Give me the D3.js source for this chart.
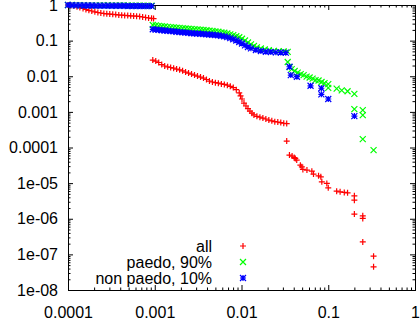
<!DOCTYPE html>
<html>
<head>
<meta charset="utf-8">
<script src="https://cdn.jsdelivr.net/npm/d3@7"></script>
<style>
  body { margin: 0; background: #fff; }
  svg { display: block; }
  text { font-family: "Liberation Sans", Arial, sans-serif; font-size: 16px; fill: #000; }
</style>
</head>
<body>
<div id="chart"></div>
<script>
// values, [x, y]
const allData = [
  [1.00e-4, 1.00], [1.08e-4, 0.968], [1.17e-4, 0.937], [1.27e-4, 0.890], [1.37e-4, 0.851],
  [1.49e-4, 0.797], [1.61e-4, 0.747], [1.74e-4, 0.710], [1.88e-4, 0.678], [2.04e-4, 0.644],
  [2.21e-4, 0.616], [2.39e-4, 0.596], [2.59e-4, 0.577], [2.80e-4, 0.566], [3.03e-4, 0.559],
  [3.28e-4, 0.548], [3.55e-4, 0.538], [3.85e-4, 0.524], [4.16e-4, 0.517], [4.50e-4, 0.510],
  [4.88e-4, 0.504], [5.28e-4, 0.497], [5.71e-4, 0.491], [6.18e-4, 0.485], [6.70e-4, 0.475],
  [7.25e-4, 0.460], [7.84e-4, 0.446], [8.49e-4, 0.431], [9.19e-4, 0.423], [9.69e-4, 0.415],
  [9.49e-4, 0.0285], [1.027e-3, 0.0267], [1.111e-3, 0.0243], [1.203e-3, 0.0213], [1.302e-3, 0.0194],
  [1.41e-3, 0.0184], [1.525e-3, 0.0176], [1.651e-3, 0.0168], [1.787e-3, 0.0159], [1.934e-3, 0.0151],
  [2.094e-3, 0.0142], [2.266e-3, 0.0131], [2.453e-3, 0.0123], [2.655e-3, 0.0115], [2.874e-3, 0.0108],
  [3.11e-3, 0.0101], [3.37e-3, 0.0095], [3.645e-3, 0.0089], [3.945e-3, 0.0081], [4.27e-3, 0.0073],
  [4.62e-3, 0.0069], [5.0e-3, 0.0066], [5.41e-3, 0.0064], [5.86e-3, 0.0061], [6.34e-3, 0.0059],
  [6.87e-3, 0.0056], [7.43e-3, 0.0052], [8.04e-3, 0.0048], [8.71e-3, 0.0042], [9.42e-3, 0.0034],
  [9.75e-3, 0.0028], [1.013e-2, 0.0023], [1.068e-2, 0.00177], [1.126e-2, 0.00146], [1.187e-2, 0.00124],
  [1.251e-2, 0.00105], [1.319e-2, 0.00092], [1.391e-2, 0.00082], [1.505e-2, 0.00075], [1.63e-2, 0.00071],
  [1.764e-2, 0.00067], [1.909e-2, 0.00063], [2.066e-2, 0.00059], [2.236e-2, 0.00056], [2.42e-2, 0.00053],
  [2.62e-2, 0.00052], [2.836e-2, 0.00050], [3.07e-2, 0.00048], [3.32e-2, 0.00047],
  [0.0332, 1.51e-4], [0.0357, 6.12e-5], [0.0383, 5.74e-5], [0.0405, 5.20e-5], [0.0417, 4.94e-5],
  [0.0433, 4.43e-5], [0.0477, 3.20e-5], [0.0496, 2.87e-5], [0.0510, 2.43e-5], [0.0568, 2.32e-5],
  [0.0647, 2.17e-5], [0.0676, 1.79e-5], [0.0773, 1.60e-5], [0.0821, 1.50e-5], [0.0843, 1.09e-5],
  [0.0963, 9.8e-6], [0.1, 7.4e-6], [0.125, 5.96e-6], [0.137, 5.70e-6], [0.153, 5.48e-6],
  [0.167, 5.34e-6], [0.2, 4.40e-6], [0.2, 3.33e-6], [0.2, 1.35e-6], [0.25, 1.21e-6],
  [0.25, 1.02e-6], [0.25, 2.24e-7], [0.333, 8.9e-8], [0.333, 4.46e-8]
];

const paedoData = [
  [1.0e-4, 1.0], [1.111e-4, 1.0], [1.235e-4, 0.99], [1.373e-4, 0.99], [1.525e-4, 0.99],
  [1.695e-4, 0.98], [1.884e-4, 0.98], [2.094e-4, 0.98], [2.327e-4, 0.98], [2.586e-4, 0.98],
  [2.874e-4, 0.99], [3.194e-4, 0.97], [3.549e-4, 0.97], [3.945e-4, 0.97], [4.384e-4, 0.97],
  [4.872e-4, 0.98], [5.414e-4, 0.96], [6.017e-4, 0.96], [6.687e-4, 0.96], [7.431e-4, 0.96],
  [8.259e-4, 0.95], [9.179e-4, 0.95],
  [9.49e-4, 0.274], [1.027e-3, 0.267], [1.111e-3, 0.260], [1.203e-3, 0.254], [1.302e-3, 0.249],
  [1.41e-3, 0.244], [1.525e-3, 0.239], [1.651e-3, 0.235], [1.787e-3, 0.230], [1.934e-3, 0.227],
  [2.094e-3, 0.223], [2.266e-3, 0.219], [2.453e-3, 0.216], [2.655e-3, 0.212], [2.874e-3, 0.209],
  [3.11e-3, 0.206], [3.37e-3, 0.202], [3.645e-3, 0.199], [3.945e-3, 0.195], [4.27e-3, 0.191],
  [4.62e-3, 0.186], [5.0e-3, 0.181], [5.41e-3, 0.177], [5.86e-3, 0.171], [6.34e-3, 0.166],
  [6.87e-3, 0.158], [7.43e-3, 0.150], [8.04e-3, 0.142], [8.71e-3, 0.133], [9.42e-3, 0.124],
  [1.013e-2, 0.113], [1.097e-2, 0.101], [1.187e-2, 0.0884], [1.285e-2, 0.0787], [1.391e-2, 0.0705],
  [1.505e-2, 0.0648], [1.673e-2, 0.0600], [1.859e-2, 0.0562], [2.066e-2, 0.0537], [2.357e-2, 0.0517],
  [2.69e-2, 0.0504], [3.07e-2, 0.0494], [3.41e-2, 0.0485],
  [0.0341, 0.0251], [0.0360, 0.0181], [0.0379, 0.0159], [0.0410, 0.0140], [0.0444, 0.0127],
  [0.0481, 0.0115], [0.0520, 0.0108], [0.0563, 0.0098], [0.0610, 0.0092], [0.0660, 0.0086],
  [0.0714, 0.0078], [0.0773, 0.0076], [0.0837, 0.0069], [0.0906, 0.0064], [0.1, 0.0060],
  [0.1, 0.0047], [0.125, 0.0045], [0.143, 0.0040], [0.167, 0.0038], [0.2, 0.0032],
  [0.2, 0.0012], [0.25, 0.00112], [0.25, 0.00081], [0.25, 0.000172], [0.333, 0.0000845]
];

const nonPaedoData = [
  [1.0e-4, 1.0], [1.111e-4, 0.99], [1.235e-4, 0.98], [1.373e-4, 0.98], [1.525e-4, 0.97],
  [1.695e-4, 0.97], [1.884e-4, 0.97], [2.094e-4, 0.96], [2.327e-4, 0.96], [2.586e-4, 0.96],
  [2.874e-4, 0.96], [3.194e-4, 0.95], [3.549e-4, 0.95], [3.945e-4, 0.95], [4.384e-4, 0.95],
  [4.872e-4, 0.94], [5.414e-4, 0.94], [6.017e-4, 0.94], [6.687e-4, 0.94], [7.431e-4, 0.93],
  [8.259e-4, 0.93], [9.179e-4, 0.93],
  [9.49e-4, 0.208], [1.027e-3, 0.204], [1.111e-3, 0.200], [1.203e-3, 0.196], [1.302e-3, 0.192],
  [1.41e-3, 0.188], [1.525e-3, 0.185], [1.651e-3, 0.181], [1.787e-3, 0.178], [1.934e-3, 0.174],
  [2.094e-3, 0.171], [2.266e-3, 0.168], [2.453e-3, 0.165], [2.655e-3, 0.161], [2.874e-3, 0.159],
  [3.11e-3, 0.157], [3.37e-3, 0.155], [3.645e-3, 0.153], [3.945e-3, 0.150], [4.27e-3, 0.148],
  [4.62e-3, 0.146], [5.0e-3, 0.143], [5.41e-3, 0.140], [5.86e-3, 0.136], [6.34e-3, 0.131],
  [6.87e-3, 0.125], [7.43e-3, 0.117], [8.04e-3, 0.109], [8.71e-3, 0.101], [9.42e-3, 0.0913],
  [1.013e-2, 0.0829], [1.097e-2, 0.0738], [1.187e-2, 0.0661], [1.285e-2, 0.0608], [1.466e-2, 0.0544],
  [1.673e-2, 0.0510], [1.909e-2, 0.0488], [2.178e-2, 0.0478], [2.486e-2, 0.0469], [2.836e-2, 0.0463],
  [3.236e-2, 0.0460],
  [0.0357, 0.0185], [0.0370, 0.0108], [0.0435, 0.0097], [0.0625, 0.0054], [0.0833, 0.0046],
  [0.0833, 0.0031], [0.1, 0.0023], [0.2, 0.00076]
];

const seriesNames = ["all", "paedo, 90%", "non paedo, 10%"];
const xTicks = [1e-4, 1e-3, 1e-2, 1e-1, 1];
const xTickLabels = ["0.0001", "0.001", "0.01", "0.1", "1"];
const yTicks = [1e-8, 1e-7, 1e-6, 1e-5, 1e-4, 1e-3, 1e-2, 1e-1, 1];
const yTickLabels = ["1e-08", "1e-07", "1e-06", "1e-05", "0.0001", "0.001", "0.01", "0.1", "1"];

const width = 420, height = 320;
const margin = { top: 5, right: 5, bottom: 30, left: 68 };

const svg = d3.select("#chart")
    .append("svg")
    .attr("width", width)
    .attr("height", height);

const x = d3.scaleLog()
    .domain([1e-4, 1])
    .range([margin.left, width - margin.right]);

const y = d3.scaleLog()
    .domain([1e-8, 1])
    .range([height - margin.bottom, margin.top]);

const xMinor = x.ticks().filter(t => !xTicks.some(m => Math.abs(m - t) / m < 1e-9));
const yMinor = y.ticks().filter(t => !yTicks.some(m => Math.abs(m - t) / m < 1e-9));

const major = 5, minor = 2.5;

// bottom axis with labels
const gx = svg.append("g").attr("transform", `translate(0, ${height - margin.bottom})`);
gx.call(d3.axisBottom(x).tickValues(xTicks).tickSize(-major).tickPadding(17)
    .tickFormat((d, i) => xTickLabels[i]));
gx.append("g").call(d3.axisBottom(x).tickValues(xMinor).tickSize(-minor).tickFormat(""));

// left axis with labels
const gy = svg.append("g").attr("transform", `translate(${margin.left}, 0)`);
gy.call(d3.axisLeft(y).tickValues(yTicks).tickSize(-major).tickPadding(10)
    .tickFormat((d, i) => yTickLabels[i]));
gy.append("g").call(d3.axisLeft(y).tickValues(yMinor).tickSize(-minor).tickFormat(""));

// mirrored ticks top and right
const gt = svg.append("g").attr("transform", `translate(0, ${margin.top})`);
gt.call(d3.axisTop(x).tickValues(xTicks).tickSize(-major).tickFormat(""));
gt.append("g").call(d3.axisTop(x).tickValues(xMinor).tickSize(-minor).tickFormat(""));

const gr = svg.append("g").attr("transform", `translate(${width - margin.right}, 0)`);
gr.call(d3.axisRight(y).tickValues(yTicks).tickSize(-major).tickFormat(""));
gr.append("g").call(d3.axisRight(y).tickValues(yMinor).tickSize(-minor).tickFormat(""));

svg.selectAll(".domain").remove();
svg.selectAll(".tick line").attr("stroke", "#000");
svg.selectAll(".tick text")
    .attr("font-family", "Liberation Sans, Arial, sans-serif")
    .attr("font-size", "16px")
    .attr("fill", "#000");

svg.append("rect")
    .attr("x", margin.left + 0.5)
    .attr("y", margin.top + 0.5)
    .attr("width", width - margin.right - margin.left)
    .attr("height", height - margin.bottom - margin.top)
    .attr("fill", "none")
    .attr("stroke", "#000")
    .attr("stroke-width", 1);

// gnuplot style point shapes
const s = 3;
const plus = `M${-s},0H${s}M0,${-s}V${s}`;
const cross = `M${-s},${-s}L${s},${s}M${-s},${s}L${s},${-s}`;
const shapes = [plus, cross, plus + cross];
const colors = ["#ff0000", "#00ff00", "#0000ff"];
const allSeries = [allData, paedoData, nonPaedoData];

allSeries.forEach((data, k) => {
    svg.append("g")
        .selectAll("path")
        .data(data)
        .enter()
        .append("path")
        .attr("transform", d => `translate(${x(d[0])}, ${y(d[1])})`)
        .attr("d", shapes[k])
        .attr("fill", "none")
        .attr("stroke", colors[k])
        .attr("stroke-width", 1.2);
});

// key
const key = svg.append("g");
seriesNames.forEach((name, k) => {
    const ky = 246 + k * 16;
    key.append("text")
        .attr("x", 212)
        .attr("y", ky)
        .attr("dy", "0.35em")
        .attr("text-anchor", "end")
        .text(name);
    key.append("path")
        .attr("transform", `translate(243, ${ky})`)
        .attr("d", shapes[k])
        .attr("fill", "none")
        .attr("stroke", colors[k])
        .attr("stroke-width", 1.2);
});
</script>
</body>
</html>
